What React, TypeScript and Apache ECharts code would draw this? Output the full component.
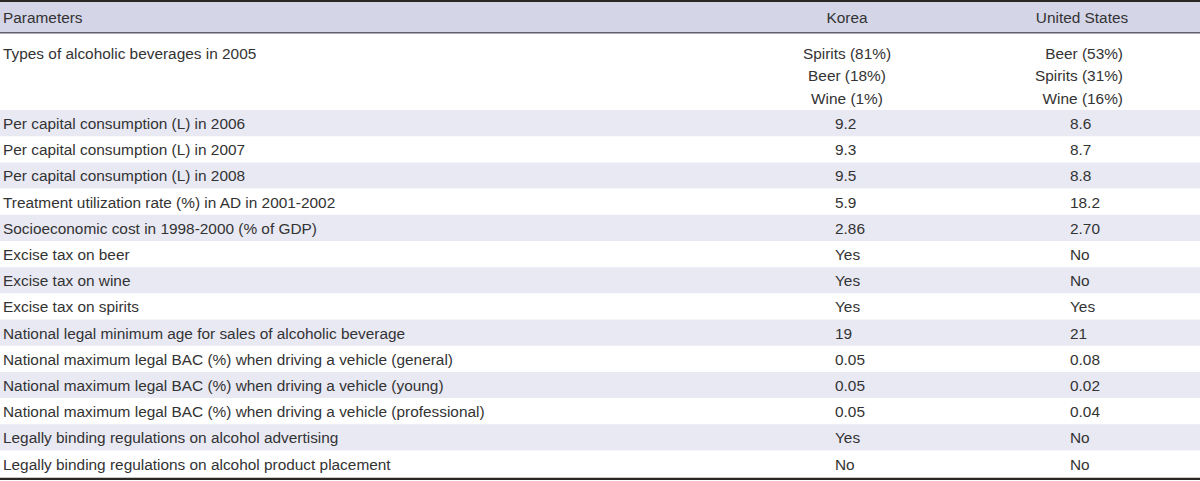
import React, { useEffect, useRef } from "react";
import * as echarts from "echarts";

const headers = ["Parameters", "Korea", "United States"];
const firstParameter = "Types of alcoholic beverages in 2005";
const beveragesKorea = ["Spirits (81%)", "Beer (18%)", "Wine (1%)"];
const beveragesUS = ["Beer (53%)", "Spirits (31%)", "Wine (16%)"];

const parameters = [
  "Per capital consumption (L) in 2006",
  "Per capital consumption (L) in 2007",
  "Per capital consumption (L) in 2008",
  "Treatment utilization rate (%) in AD in 2001-2002",
  "Socioeconomic cost in 1998-2000 (% of GDP)",
  "Excise tax on beer",
  "Excise tax on wine",
  "Excise tax on spirits",
  "National legal minimum age for sales of alcoholic beverage",
  "National maximum legal BAC (%) when driving a vehicle (general)",
  "National maximum legal BAC (%) when driving a vehicle (young)",
  "National maximum legal BAC (%) when driving a vehicle (professional)",
  "Legally binding regulations on alcohol advertising",
  "Legally binding regulations on alcohol product placement",
];
const koreaValues = ["9.2", "9.3", "9.5", "5.9", "2.86", "Yes", "Yes", "Yes", "19", "0.05", "0.05", "0.05", "Yes", "No"];
const usValues = ["8.6", "8.7", "8.8", "18.2", "2.70", "No", "No", "Yes", "21", "0.08", "0.02", "0.04", "No", "No"];

const W = 1200;
const H = 481;
const FONT = "'Liberation Sans', Arial, sans-serif";
const FS = 15.4;
const TEXT = "#333333";
const HEADER_BG = "#d5d5e8";
const STRIPE_BG = "#e9e9f3";
const BORDER = "#2a2624";

export default function App() {
  const ref = useRef<HTMLDivElement>(null);

  useEffect(() => {
    document.body.style.margin = "0";
    if (!ref.current) return;
    const chart = echarts.init(ref.current, null, { renderer: "svg" });

    const colParamX = 3;
    const colKoreaLeft = 835;
    const colKoreaCenter = 847;
    const colUSLeft = 1070;
    const colUSCenter = 1082;
    const colUSRight = 1123;

    const headerTop = 2;
    const headerBottom = 32;
    const firstRowTop = 34;
    const rowsTop = 110;
    const rowsBottom = 476.7;
    const rowH = (rowsBottom - rowsTop) / parameters.length;

    const txt = (x: number, y: number, text: string, align: string = "left") => ({
      type: "text",
      x,
      y,
      silent: true,
      style: {
        text,
        fill: TEXT,
        font: `${FS}px ${FONT}`,
        textAlign: align,
        textVerticalAlign: "middle",
      },
    });

    const els: any[] = [];
    // backgrounds
    els.push({ type: "rect", shape: { x: 0, y: 0, width: W, height: H }, style: { fill: "#ffffff" }, silent: true });
    els.push({ type: "rect", shape: { x: 0, y: headerTop, width: W, height: headerBottom - headerTop }, style: { fill: HEADER_BG }, silent: true });
    parameters.forEach((_, i) => {
      if (i % 2 === 0) {
        els.push({
          type: "rect",
          shape: { x: 0, y: rowsTop + i * rowH, width: W, height: rowH },
          style: { fill: STRIPE_BG },
          silent: true,
        });
      }
    });
    // rules
    els.push({ type: "rect", shape: { x: 0, y: 0, width: W, height: 2 }, style: { fill: BORDER }, silent: true });
    els.push({ type: "rect", shape: { x: 0, y: headerBottom, width: W, height: 1.6 }, style: { fill: "#5e5e6e" }, silent: true });
    els.push({ type: "rect", shape: { x: 0, y: rowsBottom + 1, width: W, height: 2.4 }, style: { fill: BORDER }, silent: true });

    // header texts
    const hy = (headerTop + headerBottom) / 2 + 0.5;
    els.push(txt(colParamX, hy, headers[0]));
    els.push(txt(colKoreaCenter, hy, headers[1], "center"));
    els.push(txt(colUSCenter, hy, headers[2], "center"));

    // first row
    const lineYs = [53, 75.5, 98];
    els.push(txt(colParamX, lineYs[0], firstParameter));
    beveragesKorea.forEach((b, i) => els.push(txt(colKoreaCenter, lineYs[i], b, "center")));
    beveragesUS.forEach((b, i) => els.push(txt(colUSRight, lineYs[i], b, "right")));

    // other rows
    parameters.forEach((p, i) => {
      const cy = rowsTop + i * rowH + rowH / 2 + 0.5;
      els.push(txt(colParamX, cy, p));
      els.push(txt(colKoreaLeft, cy, koreaValues[i]));
      els.push(txt(colUSLeft, cy, usValues[i]));
    });

    chart.setOption({
      animation: false,
      graphic: { elements: els },
    });

    return () => chart.dispose();
  }, []);

  return <div ref={ref} style={{ width: W, height: H }} />;
}
